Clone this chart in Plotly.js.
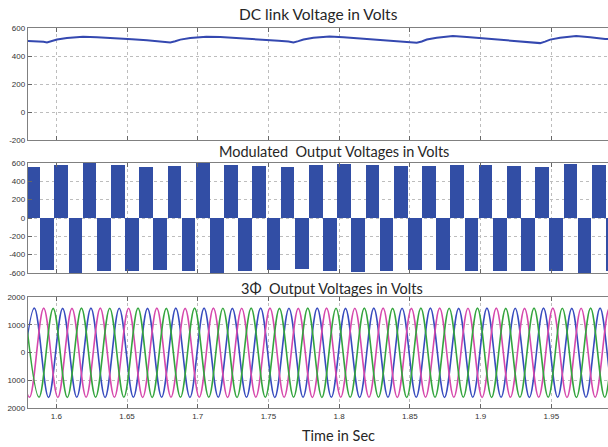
<!DOCTYPE html>
<html><head><meta charset="utf-8">
<script src="https://cdn.plot.ly/plotly-3.0.1.min.js"></script>
<style>html,body{margin:0;padding:0;overflow:hidden;background:#fff}#chart{width:640px;height:447px}</style>
</head><body><div id="chart"></div>
<script>
// ---- DC link voltage (V) ----
var dcTime = [1.5800,1.5840,1.5880,1.5910,1.5934,1.5969,1.6005,1.6075,1.6189,1.6288,1.6394,1.6535,1.6641,1.6700,1.6771,
              1.6806,1.6841,1.6877,1.6947,1.7061,1.7160,1.7266,1.7406,1.7512,1.7571,1.7642,
              1.7677,1.7712,1.7748,1.7818,1.7932,1.8031,1.8137,1.8278,1.8384,1.8443,1.8514,
              1.8549,1.8584,1.8620,1.8690,1.8804,1.8903,1.9009,1.9150,1.9256,1.9315,1.9386,
              1.9421,1.9456,1.9492,1.9562,1.9676,1.9775,1.9881,2.0000];
var dcVolt = [508,507,505,501,496,506,518,529,538,534,526,520,513,508,503,
              497,505,517,529,538,535,527,520,512,509,504,
              497,506,518,530,539,534,526,519,511,508,502,
              495,504,518,531,542,536,527,517,509,505,500,
              492,503,517,530,542,534,522,516];

// ---- Modulated output voltage (V): centre of each half-cycle block and its peak ----
var pwmTime = [1.5835,1.5935,1.6035,1.6135,1.6235,1.6335,1.6435,1.6535,1.6635,1.6735,1.6835,1.6935,1.7035,1.7135,1.7235,
               1.7335,1.7435,1.7535,1.7635,1.7735,1.7835,1.7935,1.8035,1.8135,1.8235,1.8335,1.8435,1.8535,1.8635,1.8735,
               1.8835,1.8935,1.9035,1.9135,1.9235,1.9335,1.9435,1.9535,1.9635,1.9735,1.9835,1.9935,2.0035];
var pwmVolt = [560,-567,578,-600,597,-583,578,-578,560,-567,567,-583,597,-600,578,
               -583,567,-567,560,-560,578,-583,590,-590,580,-578,570,-567,562,-565,
               575,-583,578,-583,567,-578,560,-578,590,-600,578,-580,570];

// ---- 3-phase output voltages (V): successive peaks / troughs of each phase ----
var phaseATime = [1.5745,1.5845,1.5945,1.6045,1.6145,1.6245,1.6345,1.6445,1.6545,1.6645,1.6745,1.6845,1.6945,1.7045,1.7145,
                  1.7245,1.7345,1.7445,1.7545,1.7645,1.7745,1.7845,1.7945,1.8045,1.8145,1.8245,1.8345,1.8445,1.8545,1.8645,
                  1.8745,1.8845,1.8945,1.9045,1.9145,1.9245,1.9345,1.9445,1.9545,1.9645,1.9745,1.9845,1.9945,2.0045];
var phaseAVolt = [-1610,1600,-1620,1590,-1610,1600,-1620,1595,-1610,1590,-1615,1600,-1620,1600,-1610,
                  1590,-1615,1600,-1620,1595,-1610,1600,-1615,1590,-1620,1600,-1610,1595,-1615,1600,
                  -1620,1590,-1610,1600,-1615,1595,-1620,1600,-1610,1590,-1615,1600,-1620,1595];
var phaseBTime = [1.5711,1.5811,1.5911,1.6011,1.6111,1.6211,1.6311,1.6411,1.6511,1.6611,1.6711,1.6811,1.6911,1.7011,1.7111,
                  1.7211,1.7311,1.7411,1.7511,1.7611,1.7711,1.7811,1.7911,1.8011,1.8111,1.8211,1.8311,1.8411,1.8511,1.8611,
                  1.8711,1.8811,1.8911,1.9011,1.9111,1.9211,1.9311,1.9411,1.9511,1.9611,1.9711,1.9811,1.9911,2.0011];
var phaseBVolt = [1595,-1615,1600,-1620,1590,-1610,1600,-1615,1595,-1620,1600,-1610,1590,-1615,1600,
                  -1620,1595,-1610,1600,-1615,1590,-1620,1600,-1610,1595,-1615,1600,-1620,1590,-1610,
                  1600,-1615,1595,-1620,1600,-1610,1590,-1615,1600,-1620,1595,-1610,1600,-1615];
var phaseCTime = [1.5778,1.5878,1.5978,1.6078,1.6178,1.6278,1.6378,1.6478,1.6578,1.6678,1.6778,1.6878,1.6978,1.7078,1.7178,
                  1.7278,1.7378,1.7478,1.7578,1.7678,1.7778,1.7878,1.7978,1.8078,1.8178,1.8278,1.8378,1.8478,1.8578,1.8678,
                  1.8778,1.8878,1.8978,1.9078,1.9178,1.9278,1.9378,1.9478,1.9578,1.9678,1.9778,1.9878,1.9978,2.0078];
var phaseCVolt = [1600,-1610,1590,-1620,1600,-1615,1595,-1610,1600,-1620,1590,-1615,1600,-1610,1595,
                  -1620,1600,-1615,1590,-1610,1600,-1620,1595,-1615,1600,-1610,1590,-1620,1600,-1615,
                  1595,-1610,1600,-1620,1590,-1615,1600,-1610,1595,-1620,1600,-1615,1590,-1610];

// ---- ticks & titles ----
var xTickVals = [1.6,1.65,1.7,1.75,1.8,1.85,1.9,1.95];
var xTickText = ["1.6","1.65","1.7","1.75","1.8","1.85","1.9","1.95"];
var dcTickVals = [-200,0,200,400,600];
var dcTickText = ["-200","0","200","400","600"];
var pwmTickVals = [-600,-400,-200,0,200,400,600];
var pwmTickText = ["-600","-400","-200","0","200","400","600"];
var phTickVals = [-2000,-1000,0,1000,2000];
var phTickText = ["2000","1000","0","1000","2000"];
var panelTitles = ["DC link Voltage in Volts","Modulated  Output Voltages in Volts","3\u03A6  Output Voltages in Volts"];
var xTitle = "Time in Sec";

var BLUE = "rgb(52,72,176)";
var traces = [
  {x: dcTime, y: dcVolt, type: "scatter", mode: "lines", xaxis: "x", yaxis: "y",
   line: {color: BLUE, width: 2}, hoverinfo: "skip"},
  {x: pwmTime, y: pwmVolt, type: "bar", xaxis: "x2", yaxis: "y2", width: 0.0097,
   marker: {color: "rgb(50,78,165)", line: {width: 0}}, hoverinfo: "skip"},
  {x: phaseATime, y: phaseAVolt, type: "scatter", mode: "lines", xaxis: "x3", yaxis: "y3",
   line: {color: "rgb(55,75,190)", width: 1.6, shape: "spline", smoothing: 1}, hoverinfo: "skip"},
  {x: phaseBTime, y: phaseBVolt, type: "scatter", mode: "lines", xaxis: "x3", yaxis: "y3",
   line: {color: "rgb(214,72,172)", width: 1.6, shape: "spline", smoothing: 1}, hoverinfo: "skip"},
  {x: phaseCTime, y: phaseCVolt, type: "scatter", mode: "lines", xaxis: "x3", yaxis: "y3",
   line: {color: "rgb(52,165,62)", width: 1.6, shape: "spline", smoothing: 1}, hoverinfo: "skip"}
];

var H = 447, L = 28, PW = 594;
function dom(top, bottom){ return [1 - bottom/H, 1 - top/H]; }
var tickFont = {family: "Liberation Sans, Arial, sans-serif", size: 8, color: "#333"};
function xax(anchor, show){
  return {anchor: anchor, domain: [0,1], range: [1.58, 2.0], tickvals: xTickVals, ticktext: xTickText,
    showticklabels: show, ticks: "inside", ticklen: 4, tickcolor: "#666", mirror: "ticks",
    showline: true, linecolor: "#808080", linewidth: 1.2, showgrid: true, gridcolor: "#bdbdbd",
    griddash: "dot", gridwidth: 1, zeroline: false, tickfont: tickFont, fixedrange: true};
}
function yax(anchor, d, rng, tv, tt){
  return {anchor: anchor, domain: d, range: rng, tickvals: tv, ticktext: tt,
    ticks: "inside", ticklen: 4, tickcolor: "#666", mirror: "ticks",
    showline: true, linecolor: "#808080", linewidth: 1.2, showgrid: true, gridcolor: "#bdbdbd",
    griddash: "dot", gridwidth: 1, zeroline: false, tickfont: tickFont, fixedrange: true};
}
function px2x(p){ return (p - L)/PW; }
function py2y(p){ return (H - p)/H; }
var titleFont = {family: "Lato, sans-serif", size: 14.5, color: "#262626"};
var dcTitleFont = {family: "Lato, sans-serif", size: 15.5, color: "#262626"};
var layout = {
  width: 640, height: H, margin: {l: L, r: 18, t: 0, b: 0},
  paper_bgcolor: "#fff", plot_bgcolor: "#fff", showlegend: false, bargap: 0,
  xaxis: xax("y", false), xaxis2: xax("y2", false), xaxis3: xax("y3", true),
  yaxis: yax("x", dom(28,140), [-200,600], dcTickVals, dcTickText),
  yaxis2: yax("x2", dom(163,273), [-600,600], pwmTickVals, pwmTickText),
  yaxis3: yax("x3", dom(297,408), [-2000,2000], phTickVals, phTickText),
  annotations: [
    {text: panelTitles[0], xref: "paper", yref: "paper", x: px2x(318), y: py2y(14), showarrow: false, xanchor: "center", yanchor: "middle", font: dcTitleFont},
    {text: panelTitles[1], xref: "paper", yref: "paper", x: px2x(334), y: py2y(151), showarrow: false, xanchor: "center", yanchor: "middle", font: titleFont},
    {text: panelTitles[2], xref: "paper", yref: "paper", x: px2x(332), y: py2y(288), showarrow: false, xanchor: "center", yanchor: "middle", font: titleFont},
    {text: xTitle, xref: "paper", yref: "paper", x: px2x(338), y: py2y(435), showarrow: false, xanchor: "center", yanchor: "middle", font: titleFont}
  ]
};
Plotly.newPlot("chart", traces, layout, {displayModeBar: false, staticPlot: true});
</script></body></html>
